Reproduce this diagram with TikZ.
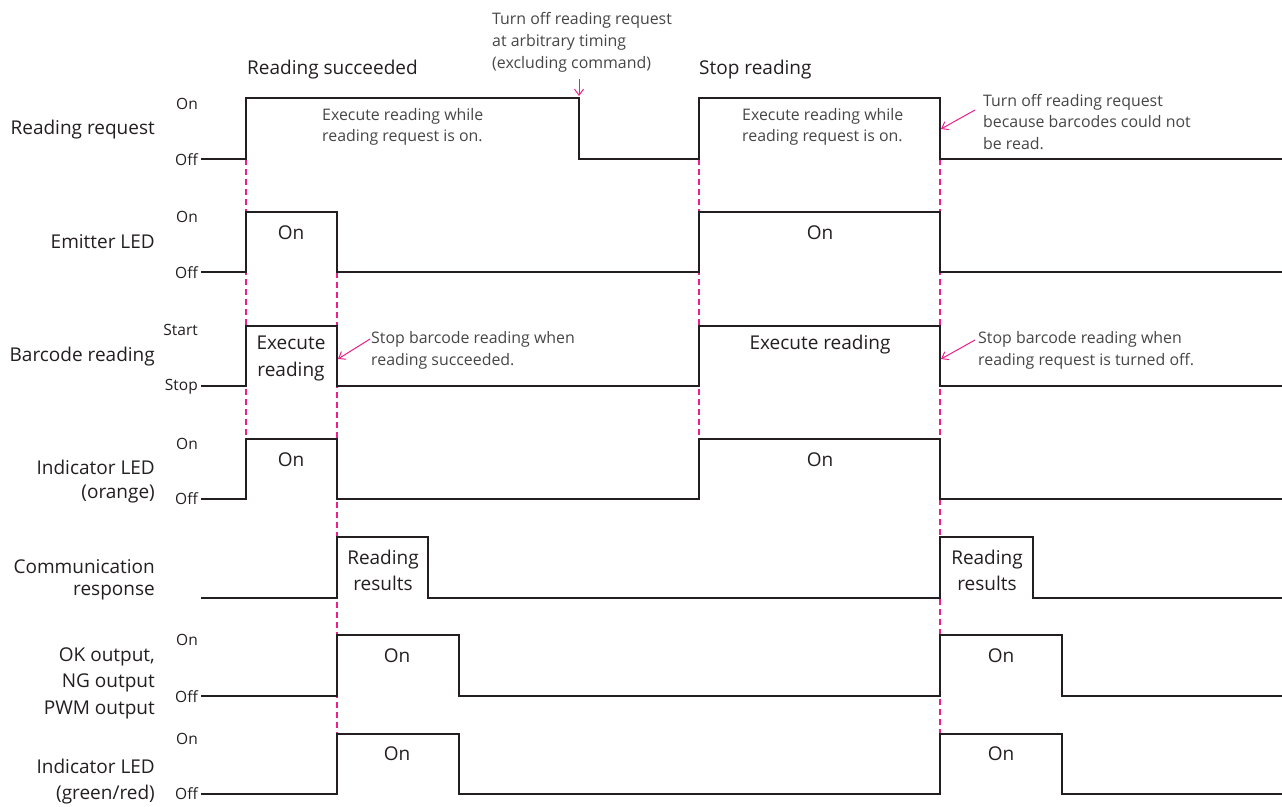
\documentclass[tikz,border=0pt]{standalone}
\usepackage{fontspec}
\setmainfont{Open Sans}
\usetikzlibrary{arrows.meta}
\definecolor{mag}{RGB}{236,30,140}
\definecolor{ink}{RGB}{35,31,32}
\definecolor{noteink}{RGB}{70,70,70}
\begin{document}
\begin{tikzpicture}[x=1pt,y=-1pt,
  wave/.style={line width=2.4pt, draw=ink, line join=miter},
  guide/.style={draw=mag, line width=1.2pt, dash pattern=on 6pt off 4pt},
  callout/.style={draw=mag, line width=1pt, -{Straight Barb[length=6pt,width=9pt]}},
  rowlab/.style={anchor=east, align=right, text=ink, inner sep=0pt},
  lvl/.style={anchor=east, font=\fontsize{15.5}{17}\selectfont, text=ink, inner sep=0pt},
  pulse/.style={text=ink, align=center, inner sep=0pt},
  note/.style={anchor=west, align=left, text=noteink, inner sep=0pt},
  ttl/.style={anchor=west, font=\fontsize{19}{22}\selectfont, text=ink, inner sep=0pt}]
\useasboundingbox (0,0) rectangle (1282,806);

% guides
\draw[guide] (246,159) -- (246,439);
\draw[guide] (337,272) -- (337,734);
\draw[guide] (699,159) -- (699,439);
\draw[guide] (940,159) -- (940,734);

% waveforms
\draw[wave] (201,159) -- (246,159) -- (246,98) -- (579,98) -- (579,159) -- (699,159) -- (699,98) -- (940,98) -- (940,159) -- (1282,159);
\draw[wave] (201,272) -- (246,272) -- (246,212) -- (337,212) -- (337,272) -- (699,272) -- (699,212) -- (940,212) -- (940,272) -- (1282,272);
\draw[wave] (201,386) -- (246,386) -- (246,326) -- (337,326) -- (337,386) -- (699,386) -- (699,326) -- (940,326) -- (940,386) -- (1282,386);
\draw[wave] (201,499) -- (246,499) -- (246,439) -- (337,439) -- (337,499) -- (699,499) -- (699,439) -- (940,439) -- (940,499) -- (1282,499);
\draw[wave] (201,598) -- (337,598) -- (337,537) -- (428,537) -- (428,598) -- (940,598) -- (940,537) -- (1033,537) -- (1033,598) -- (1282,598);
\draw[wave] (201,696) -- (337,696) -- (337,635) -- (459,635) -- (459,696) -- (940,696) -- (940,635) -- (1062,635) -- (1062,696) -- (1282,696);
\draw[wave] (201,794) -- (337,794) -- (337,734) -- (459,734) -- (459,794) -- (940,794) -- (940,734) -- (1062,734) -- (1062,794) -- (1282,794);

% row labels
\node[rowlab, font=\fontsize{19}{22}\selectfont] (rReq) at (155,130) {Reading request};
\node[rowlab, font=\fontsize{19}{22}\selectfont] (rEmit) at (155,242) {Emitter LED};
\node[rowlab, font=\fontsize{19}{22}\selectfont] (rBar) at (155,357) {Barcode reading};
\node[rowlab, font=\fontsize{19}{24}\selectfont] (rOra) at (155,482) {Indicator LED\\(orange)};
\node[rowlab, font=\fontsize{19}{22}\selectfont] (rCom) at (155,580) {Communication\\response};
\node[rowlab, font=\fontsize{19}{26.5}\selectfont] (rOut) at (155,683) {OK output,\\NG output\\PWM output};
\node[rowlab, font=\fontsize{19}{26}\selectfont] (rGrn) at (155,782) {Indicator LED\\(green/red)};

% level labels
\node[lvl] (l1a) at (198,104) {On};
\node[lvl] (l1b) at (198,160) {Off};
\node[lvl] (l2a) at (198,217) {On};
\node[lvl] (l2b) at (198,273) {Off};
\node[lvl] (l3a) at (198,330) {Start};
\node[lvl] (l3b) at (198,387) {Stop};
\node[lvl] (l4a) at (198,444) {On};
\node[lvl] (l4b) at (198,499) {Off};
\node[lvl] (l6a) at (198,640) {On};
\node[lvl] (l6b) at (198,697) {Off};
\node[lvl] (l7a) at (198,739) {On};
\node[lvl] (l7b) at (198,794) {Off};

% titles
\node[ttl] (tSucc) at (247,70) {Reading succeeded};
\node[ttl] (tStop) at (699,70) {Stop reading};

% pulse texts
\node[pulse, font=\fontsize{19}{22}\selectfont] (p2a) at (291,233) {On};
\node[pulse, font=\fontsize{19}{22}\selectfont] (p2b) at (820,233) {On};
\node[pulse, font=\fontsize{19}{27}\selectfont] (p3a) at (291,358) {Execute\\reading};
\node[pulse, font=\fontsize{19}{22}\selectfont] (p3b) at (820,345) {Execute reading};
\node[pulse, font=\fontsize{19}{22}\selectfont] (p4a) at (291,460) {On};
\node[pulse, font=\fontsize{19}{22}\selectfont] (p4b) at (820,460) {On};
\node[pulse, font=\fontsize{19}{26}\selectfont] (p5a) at (383,570) {Reading\\results};
\node[pulse, font=\fontsize{19}{26}\selectfont] (p5b) at (987,570) {Reading\\results};
\node[pulse, font=\fontsize{19}{22}\selectfont] (p6a) at (397,656) {On};
\node[pulse, font=\fontsize{19}{22}\selectfont] (p6b) at (1001,656) {On};
\node[pulse, font=\fontsize{19}{22}\selectfont] (p7a) at (397,754) {On};
\node[pulse, font=\fontsize{19}{22}\selectfont] (p7b) at (1001,754) {On};

% notes
\node[note, font=\fontsize{15.9}{21.5}\selectfont] (nExec1) at (322,127) {Execute reading while\\reading request is on.};
\node[note, font=\fontsize{15.9}{21.5}\selectfont] (nExec2) at (742,127) {Execute reading while\\reading request is on.};
\node[note, font=\fontsize{15.9}{22}\selectfont] (nTop) at (492,42) {Turn off reading request\\at arbitrary timing\\(excluding command)};
\node[note, font=\fontsize{15.9}{21.5}\selectfont] (nRight) at (983,122) {Turn off reading request\\because barcodes could not\\be read.};
\node[note, font=\fontsize{15.9}{22}\selectfont] (nBar1) at (371,350) {Stop barcode reading when\\reading succeeded.};
\node[note, font=\fontsize{15.9}{22}\selectfont] (nBar2) at (978,350) {Stop barcode reading when\\reading request is turned off.};

% callout arrows
\coordinate (cTop) at (579,96);
\coordinate (cRight) at (941,129);
\coordinate (cBar1) at (338,359);
\coordinate (cBar2) at (941,359);
\coordinate (sTop) at (579,79);
\coordinate (sRight) at (975,110);
\coordinate (sBar1) at (370,339);
\coordinate (sBar2) at (975,340);
\draw[callout] (sTop) -- (cTop);
\draw[callout] (sRight) -- (cRight);
\draw[callout] (sBar1) -- (cBar1);
\draw[callout] (sBar2) -- (cBar2);
\end{tikzpicture}
\end{document}
